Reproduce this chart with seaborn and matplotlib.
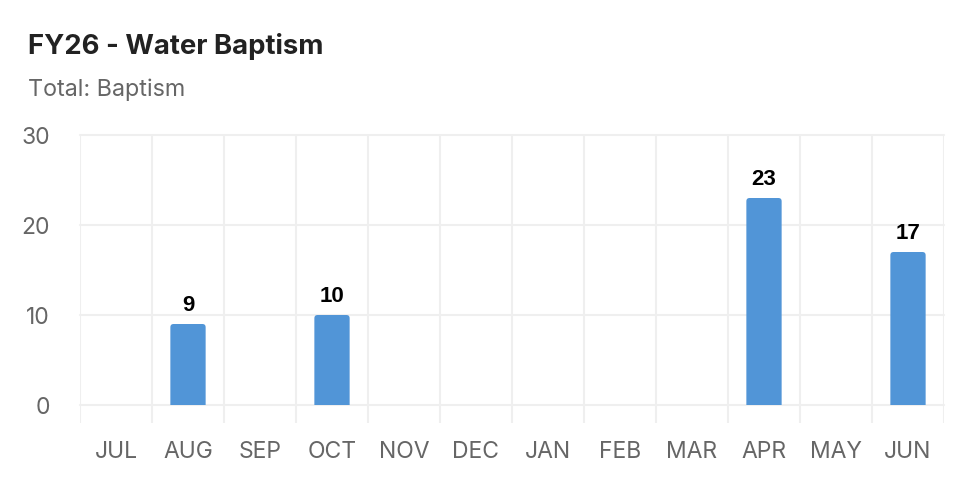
import numpy as np
import pandas as pd
import matplotlib
matplotlib.use("Agg")
import matplotlib.pyplot as plt
from matplotlib.patches import FancyBboxPatch, Rectangle
from matplotlib.ticker import FixedLocator
import seaborn as sns

months = ['JUL', 'AUG', 'SEP', 'OCT', 'NOV', 'DEC', 'JAN', 'FEB', 'MAR', 'APR', 'MAY', 'JUN']
baptisms = [0, 9, 0, 10, 0, 0, 0, 0, 0, 23, 0, 17]

df = pd.DataFrame({'month': months, 'baptisms': baptisms})

sns.set_style('white')
plt.rcParams['font.family'] = ['Inter', 'DejaVu Sans']

W, H = 966, 486
fig = plt.figure(figsize=(W / 100, H / 100), dpi=100)
fig.patch.set_facecolor('white')
ax = fig.add_axes([80 / W, 1 - 423 / H, (944 - 80) / W, (423 - 135) / H])

bar_color = '#5195d7'
grid_color = '#efefef'

sns.barplot(data=df, x='month', y='baptisms', color=bar_color, saturation=1,
            width=0.49, ax=ax, zorder=3)

ax.set_xlim(-0.5, len(months) - 0.5)
ax.set_ylim(-2, 30)

# rounded top corners on the bars
r = 0.045
aspect = (32 / 288) / (12 / 864)
clip = Rectangle((-0.5, 0), len(months), 40, transform=ax.transData)
for p in list(ax.patches):
    h = p.get_height()
    if h <= 0:
        p.remove()
        continue
    x0, w = p.get_x(), p.get_width()
    rb = FancyBboxPatch((x0, -r * aspect), w, h + r * aspect,
                        boxstyle=f'round,pad=0,rounding_size={r}',
                        mutation_aspect=aspect, facecolor=bar_color,
                        edgecolor='none', zorder=3)
    ax.add_patch(rb)
    rb.set_clip_path(clip)
    p.remove()

# value labels
for i, v in enumerate(baptisms):
    if v > 0:
        ax.annotate(str(v), (i, v), xytext=(0, 9.5), textcoords='offset points',
                    ha='center', va='baseline', fontsize=16, fontweight='bold',
                    family=['Liberation Sans', 'DejaVu Sans'], color='black')

ax.set_yticks([0, 10, 20, 30])
ax.xaxis.set_minor_locator(FixedLocator(np.arange(-0.5, len(months), 1)))
ax.grid(axis='y', which='major', color=grid_color, linewidth=1.5, zorder=0)
ax.grid(axis='x', which='minor', color=grid_color, linewidth=1.5, zorder=0)
for ln in ax.get_ygridlines() + ax.xaxis.get_minorticklines():
    ln.set_clip_on(False)
for ln in ax.xaxis.get_gridlines():
    ln.set_clip_on(False)

ax.tick_params(axis='y', length=13, width=1.5, color=grid_color, pad=8.5,
               labelsize=16.5, labelcolor='#666666')
ax.tick_params(axis='x', which='major', length=0, pad=13,
               labelsize=16.5, labelcolor='#666666')
ax.tick_params(axis='x', which='minor', length=0)
ax.set_xlabel('')
ax.set_ylabel('')
for s in ax.spines.values():
    s.set_visible(False)

fig.text(28 / W, 1 - 54.5 / H, 'FY26 - Water Baptism', fontsize=19.8,
         fontweight='bold', color='#222222', va='baseline', ha='left')
fig.text(28 / W, 1 - 96 / H, 'Total: Baptism', fontsize=16.8,
         color='#666666', va='baseline', ha='left')

fig.savefig('out.png', dpi=100, facecolor='white')
